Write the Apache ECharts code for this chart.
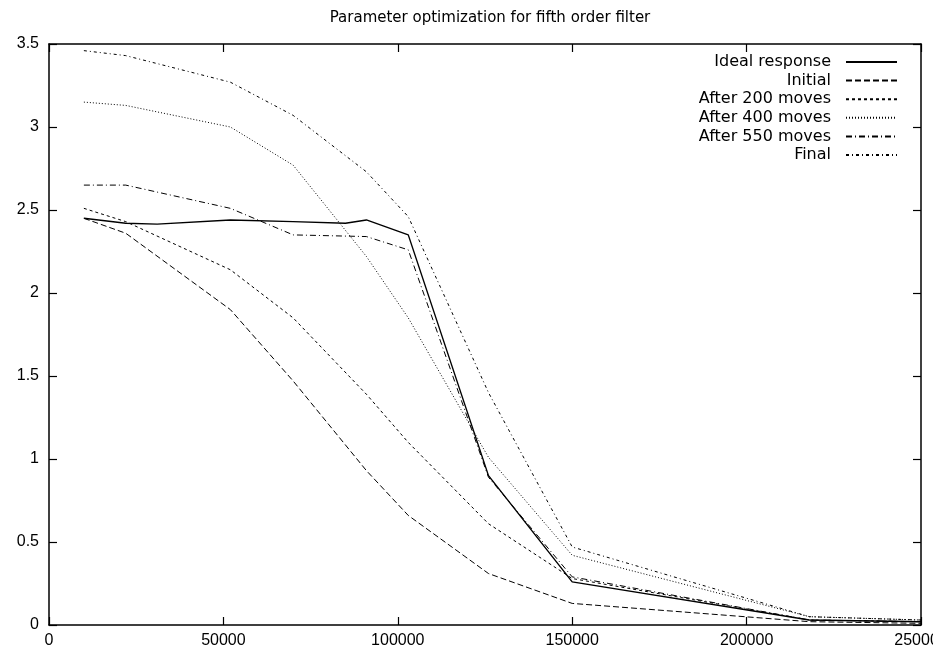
<!DOCTYPE html>
<html>
<head>
<meta charset="utf-8">
<script src="https://cdn.jsdelivr.net/npm/echarts@6/dist/echarts.min.js"></script>
<style>
html,body{margin:0;padding:0;background:#fff;}
#chart{width:933px;height:654px;}
</style>
</head>
<body>
<div id="chart"></div>
<script>
const titleText = 'Parameter optimization for fifth order filter';
const seriesNames = ['Ideal response','Initial','After 200 moves','After 400 moves','After 550 moves','Final'];
const xTicks = [0, 50000, 100000, 150000, 200000, 250000];
const yTicks = [0, 0.5, 1, 1.5, 2, 2.5, 3, 3.5];

const idealX = [10000, 22000, 31000, 52000, 70000, 85000, 91000, 103000, 126000, 150000, 218000, 250000];
const idealY = [2.45, 2.42, 2.415, 2.44, 2.43, 2.42, 2.44, 2.35, 0.90, 0.26, 0.03, 0.02];

const commonX = [10000, 22000, 52000, 70000, 91000, 103000, 126000, 150000, 218000, 250000];
const initialY = [2.45, 2.36, 1.90, 1.47, 0.93, 0.66, 0.31, 0.13, 0.02, 0.01];
const after200Y = [2.51, 2.43, 2.14, 1.85, 1.39, 1.10, 0.61, 0.28, 0.03, 0.02];
const after400Y = [3.15, 3.13, 3.00, 2.77, 2.22, 1.85, 1.01, 0.42, 0.05, 0.03];
const after550Y = [2.65, 2.65, 2.51, 2.35, 2.34, 2.26, 0.89, 0.29, 0.03, 0.02];
const finalY = [3.46, 3.43, 3.27, 3.07, 2.73, 2.46, 1.40, 0.47, 0.05, 0.03];

const dashes = ['solid', [6,3], [3,3], [1,2], [6,3,1,3], [3,3,1,3]];
const ys = [idealY, initialY, after200Y, after400Y, after550Y, finalY];

function pairs(xs, vals){ return xs.map((x,i)=>[x, vals[i]]); }

const series = seriesNames.map((name, i) => ({
  name: name,
  type: 'line',
  data: pairs(i === 0 ? idealX : commonX, ys[i]),
  symbol: 'none',
  showSymbol: false,
  silent: true,
  animation: false,
  lineStyle: { color: '#000', width: i === 0 ? 1.4 : 1, type: dashes[i] },
  itemStyle: { color: '#000' }
}));

const FONT = '"DejaVu Sans", Arial, sans-serif';
const TICKFONT = '"Liberation Sans", Arial, sans-serif';
const chart = echarts.init(document.getElementById('chart'), null, {renderer:'canvas'});
const axisLineStyle = { color: '#000', width: 1.5 };
const tickStyle = { show: true, inside: true, length: 8, lineStyle: { color: '#000', width: 1.2 } };
chart.setOption({
  backgroundColor: '#fff',
  animation: false,
  title: {
    text: titleText,
    left: 485, textAlign: 'center', top: 6,
    textStyle: { fontFamily: FONT, fontSize: 15, fontWeight: 'normal', color: '#000' }
  },
  legend: {
    orient: 'vertical',
    right: 35,
    top: 54,
    padding: 0,
    align: 'right',
    itemWidth: 51,
    itemHeight: 10,
    itemGap: 2.6,
    data: seriesNames,
    selectedMode: false,
    itemStyle: { opacity: 0 },
    textStyle: { fontFamily: FONT, fontSize: 16, lineHeight: 16, color: '#000', padding: [0, 10, 0, 0] }
  },
  grid: { left: 49, right: 12, top: 44, bottom: 29, containLabel: false, outerBoundsMode: 'none' },
  xAxis: [{
    type: 'value', min: xTicks[0], max: xTicks[xTicks.length-1], interval: 50000,
    position: 'bottom',
    axisLine: { show: true, onZero: false, lineStyle: axisLineStyle },
    axisTick: tickStyle,
    axisLabel: { color: '#000', fontFamily: TICKFONT, fontSize: 16, margin: 8, formatter: v => String(v) },
    splitLine: { show: false }
  },{
    type: 'value', min: xTicks[0], max: xTicks[xTicks.length-1], interval: 50000,
    position: 'top',
    axisLine: { show: true, onZero: false, lineStyle: axisLineStyle },
    axisTick: tickStyle,
    axisLabel: { show: false },
    splitLine: { show: false }
  }],
  yAxis: [{
    type: 'value', min: yTicks[0], max: yTicks[yTicks.length-1], interval: 0.5,
    position: 'left',
    axisLine: { show: true, onZero: false, lineStyle: axisLineStyle },
    axisTick: tickStyle,
    axisLabel: { color: '#000', fontFamily: TICKFONT, fontSize: 16, margin: 10, formatter: v => String(v) },
    splitLine: { show: false }
  },{
    type: 'value', min: yTicks[0], max: yTicks[yTicks.length-1], interval: 0.5,
    position: 'right',
    axisLine: { show: true, onZero: false, lineStyle: axisLineStyle },
    axisTick: tickStyle,
    axisLabel: { show: false },
    splitLine: { show: false }
  }],
  series: series
});
</script>
</body>
</html>
